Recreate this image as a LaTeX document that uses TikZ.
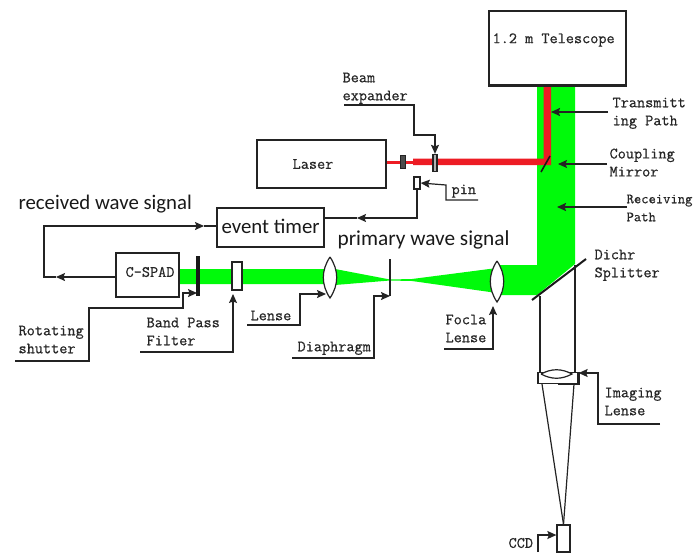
\documentclass[tikz,border=0pt]{standalone}
\usepackage{fontspec}
\newfontfamily\labelfont{Carlito}
\newfontfamily\monofont[FakeBold=0.6]{Latin Modern Mono}
\usetikzlibrary{arrows.meta}
\definecolor{beamgreen}{RGB}{0,250,10}
\definecolor{beamred}{RGB}{237,28,36}
\definecolor{inkgray}{RGB}{35,35,35}

\begin{document}
\begin{tikzpicture}[x=1pt,y=-1pt,>={Stealth[length=9pt,width=8pt,inset=1.5pt]},
                    line width=1.2pt,draw=inkgray]
  \tikzstyle{box}=[rectangle,draw=inkgray,line width=1.3pt,fill=white,inner sep=0pt]
  \tikzstyle{lab}=[align=left,anchor=north west,inner sep=0pt,text=black!85,
                   font=\monofont\fontsize{15.8}{18}\selectfont]
  \tikzstyle{sig}=[anchor=west,inner sep=0pt,text=black!90,
                   font=\labelfont\fontsize{20.8}{22}\selectfont]
  \tikzstyle{lensline}=[draw=inkgray,fill=white,line width=1.2pt]
  \tikzstyle{lead}=[inkgray,line width=1.2pt]
  \useasboundingbox (0,0) rectangle (695,552);

  % beams first, everything else sits on top
  \fill[beamgreen] (537,85) -- (575,85) -- (575,264) -- (537,295) -- (497,295)
    -- (497,265) -- (537,265) -- cycle;
  \fill[beamgreen] (497,268) -- (497,293) -- (412,281) -- (390,280.5) -- (335,285)
    -- (330,284) -- (179,284) -- (179,269) -- (335,269) -- (390,279.5)
    -- (412,279) -- cycle;
  \fill[beamred] (543.5,85) -- (551,85) -- (551,165) -- (413,165) -- (413,158.5)
    -- (543.5,158.5) -- cycle;
  \fill[beamred] (387,160.5) rectangle (413,163.5);

  \node[box,minimum width=137pt,minimum height=74pt] (scope) at (557.5,48) {};
  \node[lab,anchor=west] (scopetxt) at (492,40) {1.2 m Telescope};
  \draw[line width=2.4pt] (scope.south west) -- (scope.south east);
  \node[box,minimum width=129pt,minimum height=48pt] (laser) at (321.5,164) {};
  \node[lab,anchor=center] (lasertxt) at (313,164) {Laser};
  \node[box,minimum width=107pt,minimum height=39pt] (timer) at (270.5,227.5) {};
  \node[sig] (timertxt) at (221,226) {event timer};
  \node[box,minimum width=63pt,minimum height=44pt] (spad) at (147.5,275) {};
  \node[lab,anchor=center] (spadtxt) at (150,272) {C-SPAD};

  \node[box,fill=black!70,minimum width=5pt,minimum height=13pt] (exp1) at (403,162) {};
  \node[box,fill=black!30,minimum width=4pt,minimum height=17pt] (exp2) at (435,163) {};
  \node[box,minimum width=6pt,minimum height=12pt] (pin) at (417,183) {};
  \node[box,minimum width=10pt,minimum height=28pt] (filter) at (237,276) {};
  \node[box,minimum width=13pt,minimum height=27pt] (ccd) at (563.5,538.5) {};

  \coordinate (lens1a) at (330,257);
  \coordinate (lens1b) at (330,298);
  \draw[lensline] (lens1a) to[bend left=34] (lens1b) to[bend left=34] (lens1a);
  \coordinate (lens2a) at (497,261);
  \coordinate (lens2b) at (497,302);
  \draw[lensline] (lens2a) to[bend left=34] (lens2b) to[bend left=34] (lens2a);

  \coordinate (shuta) at (198,256);
  \coordinate (shutb) at (198,296);
  \draw[line width=3.2pt,black!90] (shuta) -- (shutb);
  \coordinate (diaa) at (390,259);
  \coordinate (diab) at (390,296);
  \draw[lead] (diaa) -- (diab);
  \coordinate (mira) at (541,172);
  \coordinate (mirb) at (550,156);
  \draw[line width=1.6pt,black!90] (mira) -- (mirb);
  \coordinate (spla) at (532,300);
  \coordinate (splb) at (586,259);
  \draw[line width=2pt,black!90] (spla) -- (splb);

  % imaging branch
  \node[box,minimum width=40pt,minimum height=11pt] (holder) at (558,378) {};
  \draw[line width=2pt,inkgray] (holder.north east) -- (holder.south east) -- (holder.south);
  \coordinate (lens3a) at (541,374);
  \coordinate (lens3b) at (572,374);
  \draw[lensline] (lens3a) to[bend left=28] (lens3b) to[bend left=28] (lens3a);
  \coordinate (spl1) at (540,296);
  \coordinate (spl2) at (575,265);
  \coordinate (cone1) at (542,384);
  \coordinate (cone2) at (574,384);
  \draw[lead] (spl1) -- (540,372);
  \draw[lead] (spl2) -- (575,372);
  \draw[lead] (cone1) -- (ccd.north);
  \draw[lead] (cone2) -- (ccd.north);

  % labels
  \node[lab] (beamtxt) at (342,72) {Beam\\expander};
  \node[lab] (pintxt) at (451,184) {pin};
  \node[lab] (transtxt) at (612,97) {Transmitt\\ing Path};
  \node[lab] (couptxt) at (609,148) {Coupling\\Mirror};
  \node[lab,font=\monofont\fontsize{14.2}{18}\selectfont] (recvtxt) at (626,194) {Receiving\\Path};
  \node[lab] (dichtxt) at (594,249) {Dichr\\Splitter};
  \node[lab] (imgtxt) at (604,387) {Imaging\\Lense};
  \node[lab] (focatxt) at (445,314) {Focla\\Lense};
  \node[lab] (diatxt) at (297,341) {Diaphragm};
  \node[lab] (lenstxt) at (250,310) {Lense};
  \node[lab] (bandtxt) at (146,317) {Band Pass\\Filter};
  \node[lab] (rottxt) at (18,325) {Rotating\\shutter};
  \node[lab,anchor=west] (ccdtxt) at (508,543) {CCD};
  \node[sig] (recwave) at (18,204.5) {received wave signal};
  \node[sig,font=\labelfont\fontsize{21.3}{22}\selectfont] (primwave) at (337,239.5) {primary wave signal};

  % leaders
  \draw[lead,->] (344,105) -- (414,105) -- (414,135) -- (435,135) -- (exp2.north);
  \draw[lead,->] (478,200) -- (446,200) -- (446,185) -- (pin.east);
  \draw[lead,->,line width=2pt] (608,112) -- (551,112);
  \draw[lead,->] (607,164) -- (558,164);
  \draw[lead,->,line width=2pt] (627,207) -- (557,207);
  \draw[lead,->] (660,424) -- (598,424) -- (598,373) -- (holder.east |- 0,373);
  \draw[lead,->] (444,349) -- (493,349) -- (493,306);
  \draw[lead,->] (292,358) -- (374,358) -- (374,296) -- (diab);
  \draw[lead,->] (247,325) -- (300,325) -- (300,294) -- (326,294);
  \draw[lead,->] (140,352) -- (233,352) -- (233,294);
  \draw[lead,->] (15,361) -- (89,361) -- (89,308) -- (183,308) -- (183,293) -- (197,293);
  \draw[lead,->] (538,552) -- (538,535) -- (ccd.west |- 0,535);

  % timing lines
  \coordinate (pinmid) at (357,218);
  \coordinate (spadmid) at (56,277);
  \coordinate (timermid) at (204,226);
  \draw[lead,->] (pin.south) -- (pin.south |- pinmid) -- (pinmid);
  \draw[lead] (pinmid) -- (timer.east |- pinmid);
  \draw[lead,->] (spad.west |- spadmid) -- (spadmid);
  \draw[lead,->] (spadmid) -- (44,277) -- (44,226) -- (timermid);
  \draw[lead] (timermid) -- (timer.west |- timermid);
\end{tikzpicture}
\end{document}
